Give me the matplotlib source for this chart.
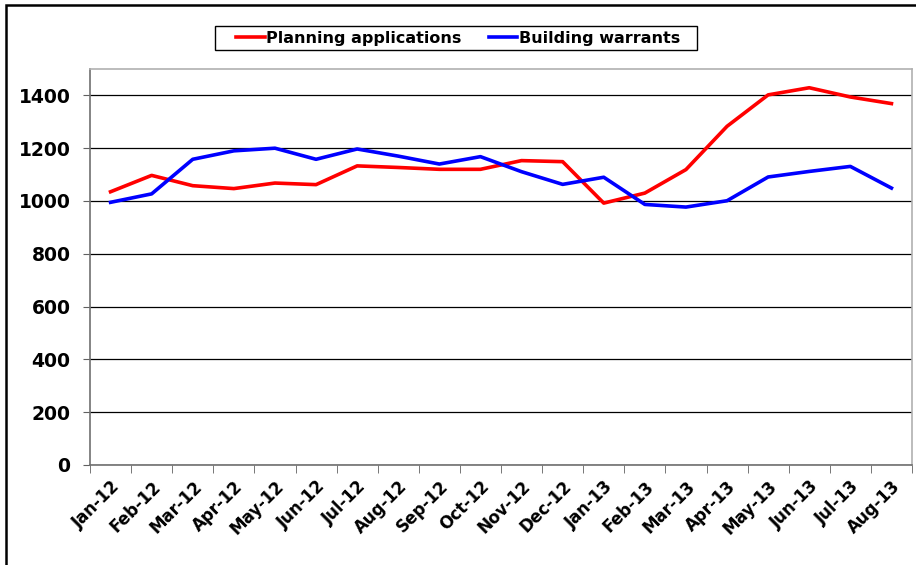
import matplotlib
matplotlib.use("Agg")
import matplotlib.pyplot as plt
from matplotlib.patches import Rectangle

# monthly counts, Jan 2012 - Aug 2013
months = ['Jan-12', 'Feb-12', 'Mar-12', 'Apr-12', 'May-12', 'Jun-12', 'Jul-12',
          'Aug-12', 'Sep-12', 'Oct-12', 'Nov-12', 'Dec-12', 'Jan-13', 'Feb-13',
          'Mar-13', 'Apr-13', 'May-13', 'Jun-13', 'Jul-13', 'Aug-13']
planning = [1035, 1097, 1058, 1047, 1068, 1062, 1133, 1127, 1120, 1120,
            1153, 1149, 992, 1030, 1119, 1283, 1402, 1429, 1394, 1369]
warrants = [995, 1027, 1158, 1190, 1200, 1158, 1197, 1170, 1140, 1168,
            1111, 1063, 1090, 987, 977, 1001, 1091, 1112, 1131, 1049]
y_ticks = [0, 200, 400, 600, 800, 1000, 1200, 1400]

plt.rcParams['font.family'] = ['DejaVu Sans']
plt.rcParams['font.weight'] = 'bold'

fig = plt.figure(figsize=(9.16, 5.65), dpi=100)
ax = fig.add_axes([90 / 916, 1 - 465 / 565, (912 - 90) / 916, (465 - 69) / 565])

x = list(range(len(months)))
ax.plot(x, planning, color='#ff0000', lw=2.6, label='Planning applications')
ax.plot(x, warrants, color='#0000ff', lw=2.6, label='Building warrants')

ax.set_xlim(-0.5, len(months) - 0.5)
ax.set_ylim(0, 1500)
ax.set_yticks(y_ticks)
ax.set_yticklabels([str(v) for v in y_ticks], fontsize=13.5, fontweight='bold')
ax.set_xticks(x)
ax.set_xticklabels(months, rotation=45, ha='right', rotation_mode='anchor',
                   fontsize=12, fontweight='bold')
ax.tick_params(axis='x', length=0, pad=9)
# category boundary ticks
ax.set_xticks([i - 0.5 for i in range(len(months) + 1)], minor=True)
ax.tick_params(axis='x', which='minor', length=6, color='#606060', direction='out')
ax.tick_params(axis='y', length=5, color='#606060', direction='out', pad=9)

ax.grid(axis='y', color='black', lw=0.9)
ax.set_axisbelow(True)
for side in ['top', 'right']:
    ax.spines[side].set_color('#b0b0b0')
    ax.spines[side].set_linewidth(1.2)
for side in ['left', 'bottom']:
    ax.spines[side].set_color('#707070')
    ax.spines[side].set_linewidth(1.2)

leg = ax.legend(loc='center', bbox_to_anchor=(458 / 916, 1 - 38.5 / 565),
                bbox_transform=fig.transFigure, ncol=2, frameon=False,
                fontsize=11.5, handlelength=1.8, handletextpad=0.1,
                columnspacing=1.7, borderpad=0.3, borderaxespad=0)
for t in leg.get_texts():
    t.set_fontweight('bold')
leg.set_zorder(10)

# legend box is wider than the entries, as in the original
ax.add_patch(Rectangle((215 / 916, 1 - 50 / 565), (697 - 215) / 916, 24 / 565,
                       transform=fig.transFigure, clip_on=False, facecolor='white',
                       edgecolor='black', lw=1.0, zorder=9))

# outer chart frame, clipped by the image edge
fig.patches.append(Rectangle((6 / 916, -0.1), 1.2, 1 - 5 / 565 + 0.1,
                             transform=fig.transFigure, fill=False,
                             edgecolor='black', lw=1.8, zorder=0))

fig.savefig('out.png', dpi=100)
